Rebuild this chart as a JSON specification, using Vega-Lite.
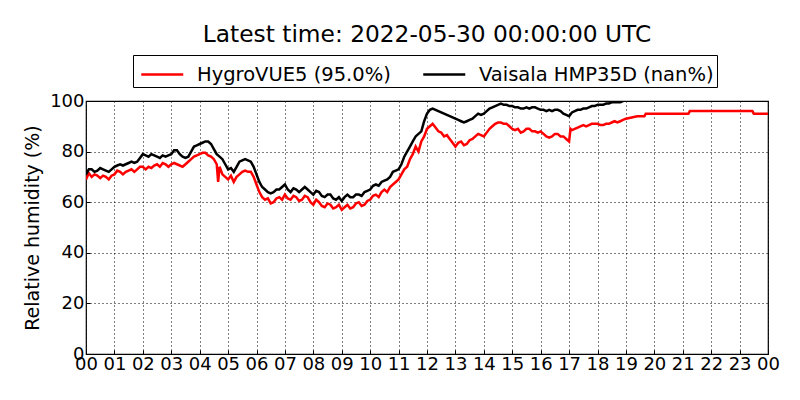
{
  "$schema": "https://vega.github.io/schema/vega-lite/v6.json",
  "width": 682,
  "height": 253,
  "autosize": {"type": "none"},
  "padding": {"left": 86, "top": 101, "right": 32, "bottom": 46},
  "background": "white",
  "title": {
    "text": "Latest time: 2022-05-30 00:00:00 UTC",
    "font": "DejaVu Sans",
    "fontSize": 23.3,
    "fontWeight": "normal",
    "color": "black",
    "anchor": "middle",
    "offset": 7
  },
  "datasets": {
    "hygro": [
      {"hour": 0.0, "rh": 69}, {"hour": 0.1, "rh": 71.5}, {"hour": 0.2, "rh": 70}, {"hour": 0.3, "rh": 71}, {"hour": 0.4, "rh": 70.5},
      {"hour": 0.5, "rh": 69.5}, {"hour": 0.6, "rh": 70.5}, {"hour": 0.7, "rh": 70}, {"hour": 0.8, "rh": 69}, {"hour": 0.9, "rh": 70.5},
      {"hour": 1.0, "rh": 71}, {"hour": 1.1, "rh": 72.5}, {"hour": 1.2, "rh": 72}, {"hour": 1.3, "rh": 71}, {"hour": 1.4, "rh": 72},
      {"hour": 1.5, "rh": 72.5}, {"hour": 1.6, "rh": 73}, {"hour": 1.7, "rh": 72}, {"hour": 1.8, "rh": 73}, {"hour": 1.9, "rh": 74},
      {"hour": 2.0, "rh": 74}, {"hour": 2.1, "rh": 73}, {"hour": 2.2, "rh": 74}, {"hour": 2.3, "rh": 73.5}, {"hour": 2.4, "rh": 74.5},
      {"hour": 2.5, "rh": 75}, {"hour": 2.6, "rh": 74}, {"hour": 2.7, "rh": 75.5}, {"hour": 2.8, "rh": 75}, {"hour": 2.9, "rh": 74},
      {"hour": 3.0, "rh": 75}, {"hour": 3.1, "rh": 75.5}, {"hour": 3.2, "rh": 75}, {"hour": 3.3, "rh": 74.5}, {"hour": 3.4, "rh": 74},
      {"hour": 3.5, "rh": 75}, {"hour": 3.6, "rh": 76}, {"hour": 3.7, "rh": 77}, {"hour": 3.8, "rh": 78}, {"hour": 3.9, "rh": 78.5},
      {"hour": 4.0, "rh": 79}, {"hour": 4.1, "rh": 79.5}, {"hour": 4.2, "rh": 79.5}, {"hour": 4.3, "rh": 78.5}, {"hour": 4.4, "rh": 78},
      {"hour": 4.5, "rh": 77}, {"hour": 4.6, "rh": 75}, {"hour": 4.65, "rh": 68}, {"hour": 4.7, "rh": 74}, {"hour": 4.8, "rh": 71},
      {"hour": 4.9, "rh": 70}, {"hour": 5.0, "rh": 69}, {"hour": 5.1, "rh": 70.5}, {"hour": 5.2, "rh": 68}, {"hour": 5.3, "rh": 70},
      {"hour": 5.4, "rh": 71}, {"hour": 5.5, "rh": 72}, {"hour": 5.6, "rh": 72.5}, {"hour": 5.7, "rh": 72}, {"hour": 5.8, "rh": 72},
      {"hour": 5.9, "rh": 70}, {"hour": 6.0, "rh": 67}, {"hour": 6.1, "rh": 64}, {"hour": 6.2, "rh": 62}, {"hour": 6.3, "rh": 61},
      {"hour": 6.4, "rh": 61.5}, {"hour": 6.5, "rh": 59.5}, {"hour": 6.6, "rh": 60}, {"hour": 6.7, "rh": 61.5}, {"hour": 6.8, "rh": 62},
      {"hour": 6.9, "rh": 61}, {"hour": 7.0, "rh": 63}, {"hour": 7.1, "rh": 61.5}, {"hour": 7.2, "rh": 61}, {"hour": 7.3, "rh": 62.5},
      {"hour": 7.4, "rh": 62}, {"hour": 7.5, "rh": 60.5}, {"hour": 7.6, "rh": 61}, {"hour": 7.7, "rh": 62.5}, {"hour": 7.8, "rh": 62},
      {"hour": 7.9, "rh": 60}, {"hour": 8.0, "rh": 59}, {"hour": 8.1, "rh": 61}, {"hour": 8.2, "rh": 60}, {"hour": 8.3, "rh": 58.5},
      {"hour": 8.4, "rh": 58}, {"hour": 8.5, "rh": 59.5}, {"hour": 8.6, "rh": 59}, {"hour": 8.7, "rh": 57.5}, {"hour": 8.8, "rh": 58},
      {"hour": 8.9, "rh": 59}, {"hour": 9.0, "rh": 57}, {"hour": 9.1, "rh": 58}, {"hour": 9.2, "rh": 59}, {"hour": 9.3, "rh": 57.5},
      {"hour": 9.4, "rh": 58}, {"hour": 9.5, "rh": 59.5}, {"hour": 9.6, "rh": 60}, {"hour": 9.7, "rh": 58.5}, {"hour": 9.8, "rh": 59},
      {"hour": 9.9, "rh": 60.5}, {"hour": 10.0, "rh": 61}, {"hour": 10.1, "rh": 62.5}, {"hour": 10.2, "rh": 63}, {"hour": 10.3, "rh": 62},
      {"hour": 10.4, "rh": 64}, {"hour": 10.5, "rh": 65}, {"hour": 10.6, "rh": 64}, {"hour": 10.7, "rh": 66}, {"hour": 10.8, "rh": 67},
      {"hour": 10.9, "rh": 68}, {"hour": 11.0, "rh": 69}, {"hour": 11.1, "rh": 71}, {"hour": 11.2, "rh": 73}, {"hour": 11.3, "rh": 74},
      {"hour": 11.4, "rh": 77}, {"hour": 11.5, "rh": 79}, {"hour": 11.6, "rh": 82}, {"hour": 11.7, "rh": 80}, {"hour": 11.8, "rh": 84},
      {"hour": 11.9, "rh": 86}, {"hour": 12.0, "rh": 89}, {"hour": 12.1, "rh": 90}, {"hour": 12.2, "rh": 91}, {"hour": 12.3, "rh": 89.5},
      {"hour": 12.4, "rh": 88}, {"hour": 12.5, "rh": 87.5}, {"hour": 12.6, "rh": 86}, {"hour": 12.7, "rh": 86.5}, {"hour": 12.8, "rh": 85},
      {"hour": 12.9, "rh": 83.5}, {"hour": 13.0, "rh": 82}, {"hour": 13.1, "rh": 83.5}, {"hour": 13.2, "rh": 84}, {"hour": 13.3, "rh": 82.5},
      {"hour": 13.4, "rh": 83}, {"hour": 13.5, "rh": 84.5}, {"hour": 13.6, "rh": 85}, {"hour": 13.7, "rh": 86}, {"hour": 13.8, "rh": 87},
      {"hour": 13.9, "rh": 86.5}, {"hour": 14.0, "rh": 86}, {"hour": 14.1, "rh": 87.5}, {"hour": 14.2, "rh": 89}, {"hour": 14.3, "rh": 90},
      {"hour": 14.4, "rh": 91}, {"hour": 14.5, "rh": 91.5}, {"hour": 14.6, "rh": 91.5}, {"hour": 14.7, "rh": 91}, {"hour": 14.8, "rh": 91},
      {"hour": 14.9, "rh": 90}, {"hour": 15.0, "rh": 89}, {"hour": 15.1, "rh": 88.5}, {"hour": 15.2, "rh": 89}, {"hour": 15.3, "rh": 87.5},
      {"hour": 15.4, "rh": 88}, {"hour": 15.5, "rh": 89}, {"hour": 15.6, "rh": 89}, {"hour": 15.7, "rh": 88}, {"hour": 15.8, "rh": 88},
      {"hour": 15.9, "rh": 87.5}, {"hour": 16.0, "rh": 88}, {"hour": 16.1, "rh": 87}, {"hour": 16.2, "rh": 86}, {"hour": 16.3, "rh": 85.5},
      {"hour": 16.4, "rh": 86}, {"hour": 16.5, "rh": 87}, {"hour": 16.6, "rh": 87}, {"hour": 16.7, "rh": 86}, {"hour": 16.8, "rh": 86},
      {"hour": 16.9, "rh": 85}, {"hour": 17.0, "rh": 84}, {"hour": 17.05, "rh": 89}, {"hour": 17.1, "rh": 88.5}, {"hour": 17.2, "rh": 89},
      {"hour": 17.3, "rh": 89.5}, {"hour": 17.4, "rh": 90}, {"hour": 17.5, "rh": 90.5}, {"hour": 17.6, "rh": 90}, {"hour": 17.7, "rh": 90.5},
      {"hour": 17.8, "rh": 91}, {"hour": 17.9, "rh": 91}, {"hour": 18.0, "rh": 91}, {"hour": 18.1, "rh": 90.5}, {"hour": 18.2, "rh": 90.5},
      {"hour": 18.3, "rh": 91}, {"hour": 18.4, "rh": 91}, {"hour": 18.5, "rh": 91.5}, {"hour": 18.6, "rh": 92}, {"hour": 18.7, "rh": 91.5},
      {"hour": 18.8, "rh": 92}, {"hour": 18.9, "rh": 92.5}, {"hour": 19.0, "rh": 93}, {"hour": 19.2, "rh": 93.5}, {"hour": 19.4, "rh": 94},
      {"hour": 19.65, "rh": 94}, {"hour": 19.7, "rh": 95}, {"hour": 21.2, "rh": 95}, {"hour": 21.25, "rh": 96}, {"hour": 23.45, "rh": 96},
      {"hour": 23.5, "rh": 95}, {"hour": 24.0, "rh": 95}
    ],
    "vaisala": [
      {"hour": 0.0, "rh": 71}, {"hour": 0.1, "rh": 73}, {"hour": 0.2, "rh": 73}, {"hour": 0.3, "rh": 72}, {"hour": 0.4, "rh": 72.5},
      {"hour": 0.5, "rh": 73.5}, {"hour": 0.6, "rh": 73}, {"hour": 0.7, "rh": 72.5}, {"hour": 0.8, "rh": 72}, {"hour": 0.9, "rh": 73},
      {"hour": 1.0, "rh": 74}, {"hour": 1.1, "rh": 74.5}, {"hour": 1.2, "rh": 75}, {"hour": 1.3, "rh": 74.5}, {"hour": 1.4, "rh": 75},
      {"hour": 1.5, "rh": 75.5}, {"hour": 1.6, "rh": 76}, {"hour": 1.7, "rh": 75.5}, {"hour": 1.8, "rh": 76}, {"hour": 1.9, "rh": 77.5},
      {"hour": 2.0, "rh": 79}, {"hour": 2.1, "rh": 78.5}, {"hour": 2.2, "rh": 78}, {"hour": 2.3, "rh": 79}, {"hour": 2.4, "rh": 78.5},
      {"hour": 2.5, "rh": 78}, {"hour": 2.6, "rh": 77.5}, {"hour": 2.7, "rh": 78.5}, {"hour": 2.8, "rh": 78}, {"hour": 2.9, "rh": 78.5},
      {"hour": 3.0, "rh": 79}, {"hour": 3.1, "rh": 80.5}, {"hour": 3.2, "rh": 80.5}, {"hour": 3.3, "rh": 79}, {"hour": 3.4, "rh": 78},
      {"hour": 3.5, "rh": 77.5}, {"hour": 3.6, "rh": 78}, {"hour": 3.7, "rh": 80}, {"hour": 3.8, "rh": 82}, {"hour": 3.9, "rh": 82.5},
      {"hour": 4.0, "rh": 83}, {"hour": 4.1, "rh": 83.5}, {"hour": 4.2, "rh": 84}, {"hour": 4.3, "rh": 84}, {"hour": 4.4, "rh": 83},
      {"hour": 4.5, "rh": 81}, {"hour": 4.6, "rh": 79}, {"hour": 4.7, "rh": 78}, {"hour": 4.8, "rh": 77}, {"hour": 4.9, "rh": 75},
      {"hour": 5.0, "rh": 73}, {"hour": 5.1, "rh": 73.5}, {"hour": 5.2, "rh": 72}, {"hour": 5.3, "rh": 74}, {"hour": 5.4, "rh": 76},
      {"hour": 5.5, "rh": 76.5}, {"hour": 5.6, "rh": 77}, {"hour": 5.7, "rh": 76.5}, {"hour": 5.8, "rh": 76}, {"hour": 5.9, "rh": 74},
      {"hour": 6.0, "rh": 71}, {"hour": 6.1, "rh": 68}, {"hour": 6.2, "rh": 66}, {"hour": 6.3, "rh": 65}, {"hour": 6.4, "rh": 64},
      {"hour": 6.5, "rh": 63.5}, {"hour": 6.6, "rh": 64}, {"hour": 6.7, "rh": 65}, {"hour": 6.8, "rh": 65}, {"hour": 6.9, "rh": 66},
      {"hour": 7.0, "rh": 67}, {"hour": 7.1, "rh": 65}, {"hour": 7.2, "rh": 64}, {"hour": 7.3, "rh": 65.5}, {"hour": 7.4, "rh": 65},
      {"hour": 7.5, "rh": 64}, {"hour": 7.6, "rh": 65}, {"hour": 7.7, "rh": 66}, {"hour": 7.8, "rh": 65}, {"hour": 7.9, "rh": 64},
      {"hour": 8.0, "rh": 63}, {"hour": 8.1, "rh": 64.5}, {"hour": 8.2, "rh": 64}, {"hour": 8.3, "rh": 62.5}, {"hour": 8.4, "rh": 62},
      {"hour": 8.5, "rh": 63}, {"hour": 8.6, "rh": 63}, {"hour": 8.7, "rh": 61.5}, {"hour": 8.8, "rh": 61}, {"hour": 8.9, "rh": 62},
      {"hour": 9.0, "rh": 60.5}, {"hour": 9.1, "rh": 62}, {"hour": 9.2, "rh": 63}, {"hour": 9.3, "rh": 62}, {"hour": 9.4, "rh": 62},
      {"hour": 9.5, "rh": 63}, {"hour": 9.6, "rh": 63}, {"hour": 9.7, "rh": 62.5}, {"hour": 9.8, "rh": 64}, {"hour": 9.9, "rh": 64.5},
      {"hour": 10.0, "rh": 65}, {"hour": 10.1, "rh": 66.5}, {"hour": 10.2, "rh": 67}, {"hour": 10.3, "rh": 66.5}, {"hour": 10.4, "rh": 68},
      {"hour": 10.5, "rh": 68.5}, {"hour": 10.6, "rh": 69}, {"hour": 10.7, "rh": 70}, {"hour": 10.8, "rh": 72}, {"hour": 10.9, "rh": 72.5},
      {"hour": 11.0, "rh": 73}, {"hour": 11.1, "rh": 75}, {"hour": 11.2, "rh": 78}, {"hour": 11.3, "rh": 80}, {"hour": 11.4, "rh": 82},
      {"hour": 11.5, "rh": 84}, {"hour": 11.6, "rh": 86}, {"hour": 11.7, "rh": 87}, {"hour": 11.8, "rh": 88}, {"hour": 11.9, "rh": 92},
      {"hour": 12.0, "rh": 95}, {"hour": 12.1, "rh": 96.5}, {"hour": 12.2, "rh": 97}, {"hour": 12.3, "rh": 96.5}, {"hour": 12.4, "rh": 96},
      {"hour": 12.5, "rh": 95.5}, {"hour": 12.6, "rh": 95}, {"hour": 12.7, "rh": 94.5}, {"hour": 12.8, "rh": 94}, {"hour": 12.9, "rh": 93.5},
      {"hour": 13.0, "rh": 93}, {"hour": 13.1, "rh": 92.5}, {"hour": 13.2, "rh": 92}, {"hour": 13.3, "rh": 91.5}, {"hour": 13.4, "rh": 92},
      {"hour": 13.5, "rh": 92.5}, {"hour": 13.6, "rh": 93}, {"hour": 13.7, "rh": 94}, {"hour": 13.8, "rh": 95}, {"hour": 13.9, "rh": 94.5},
      {"hour": 14.0, "rh": 95}, {"hour": 14.1, "rh": 96}, {"hour": 14.2, "rh": 97}, {"hour": 14.3, "rh": 97.5}, {"hour": 14.4, "rh": 98},
      {"hour": 14.5, "rh": 98.5}, {"hour": 14.6, "rh": 99}, {"hour": 14.7, "rh": 98.5}, {"hour": 14.8, "rh": 98.5}, {"hour": 14.9, "rh": 98},
      {"hour": 15.0, "rh": 98}, {"hour": 15.1, "rh": 97.5}, {"hour": 15.2, "rh": 97.5}, {"hour": 15.3, "rh": 97}, {"hour": 15.4, "rh": 97},
      {"hour": 15.5, "rh": 97.5}, {"hour": 15.6, "rh": 97}, {"hour": 15.7, "rh": 97.5}, {"hour": 15.8, "rh": 97.5}, {"hour": 15.9, "rh": 97},
      {"hour": 16.0, "rh": 96.5}, {"hour": 16.1, "rh": 96.5}, {"hour": 16.2, "rh": 96}, {"hour": 16.3, "rh": 96.5}, {"hour": 16.4, "rh": 96},
      {"hour": 16.5, "rh": 96.5}, {"hour": 16.6, "rh": 96.5}, {"hour": 16.7, "rh": 96}, {"hour": 16.8, "rh": 95}, {"hour": 16.9, "rh": 94.5},
      {"hour": 17.0, "rh": 94}, {"hour": 17.1, "rh": 95.5}, {"hour": 17.2, "rh": 96}, {"hour": 17.3, "rh": 96.5}, {"hour": 17.4, "rh": 96.5},
      {"hour": 17.5, "rh": 97}, {"hour": 17.6, "rh": 97}, {"hour": 17.7, "rh": 97.5}, {"hour": 17.8, "rh": 98}, {"hour": 17.9, "rh": 98},
      {"hour": 18.0, "rh": 98.5}, {"hour": 18.1, "rh": 98.5}, {"hour": 18.2, "rh": 98.5}, {"hour": 18.3, "rh": 99}, {"hour": 18.4, "rh": 99},
      {"hour": 18.5, "rh": 99.5}, {"hour": 18.6, "rh": 99.5}, {"hour": 18.7, "rh": 99.5}, {"hour": 18.8, "rh": 99.5}, {"hour": 18.9, "rh": 100}
    ]
  },
  "encoding": {
    "x": {
      "field": "hour",
      "type": "quantitative",
      "scale": {"domain": [0, 24], "nice": false, "zero": false},
      "axis": {
        "title": null,
        "values": [0, 1, 2, 3, 4, 5, 6, 7, 8, 9, 10, 11, 12, 13, 14, 15, 16, 17, 18, 19, 20, 21, 22, 23, 24],
        "labelExpr": "datum.value == 24 ? '00' : (datum.value < 10 ? '0' + datum.value : '' + datum.value)",
        "ticks": true,
        "tickSize": -4,
        "labelPadding": 5,
        "labelFlush": false
      }
    },
    "y": {
      "field": "rh",
      "type": "quantitative",
      "scale": {"domain": [0, 100], "nice": false},
      "axis": {
        "title": "Relative humidity (%)",
        "values": [0, 20, 40, 60, 80, 100],
        "ticks": true,
        "tickSize": -4,
        "titlePadding": 7,
        "labelPadding": 6
      }
    }
  },
  "layer": [
    {
      "data": {"name": "hygro"},
      "mark": {"type": "line", "strokeWidth": 2.5, "clip": true},
      "encoding": {
        "color": {"datum": "HygroVUE5 (95.0%)", "type": "nominal"}
      }
    },
    {
      "data": {"name": "vaisala"},
      "mark": {"type": "line", "strokeWidth": 2.5, "clip": true},
      "encoding": {
        "color": {
          "datum": "Vaisala HMP35D (nan%)",
          "type": "nominal",
          "scale": {
            "domain": ["HygroVUE5 (95.0%)", "Vaisala HMP35D (nan%)"],
            "range": ["#ff0000", "#000000"]
          },
          "legend": {
            "title": null,
            "orient": "none",
            "legendX": 47,
            "legendY": -46,
            "direction": "horizontal",
            "symbolType": "M-0.75,0H2.05",
            "symbolSize": 900,
            "symbolStrokeWidth": 2.5,
            "symbolFillColor": "transparent",
            "labelOffset": 28,
            "columnPadding": 27,
            "padding": 3,
            "strokeColor": "black",
            "fillColor": "white",
            "cornerRadius": 0,
            "labelLimit": 400
          }
        }
      }
    }
  ],
  "config": {
    "font": "DejaVu Sans",
    "axis": {
      "labelFont": "DejaVu Sans",
      "titleFont": "DejaVu Sans",
      "labelFontSize": 18,
      "titleFontSize": 19,
      "titleFontWeight": "normal",
      "labelColor": "black",
      "titleColor": "black",
      "tickColor": "black",
      "tickWidth": 1,
      "domain": false,
      "ticks": false,
      "grid": true,
      "gridColor": "black",
      "gridOpacity": 1,
      "gridDash": [1, 3],
      "gridWidth": 1
    },
    "legend": {
      "labelFont": "DejaVu Sans",
      "labelFontSize": 19.5,
      "labelColor": "black"
    },
    "view": {"stroke": "black", "strokeWidth": 1.2}
  }
}
